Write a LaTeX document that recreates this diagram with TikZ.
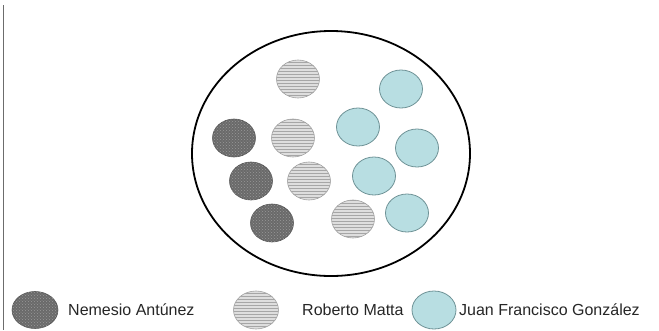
\documentclass[tikz,border=0pt]{standalone}
\usepackage{fontspec}
\setmainfont{Liberation Sans}
\usetikzlibrary{shapes.geometric,patterns}
\definecolor{darkfill}{HTML}{6A6A6A}
\definecolor{darkline}{HTML}{555555}
\definecolor{lightfill}{HTML}{DEDEDE}
\definecolor{lightline}{HTML}{A0A0A0}
\definecolor{cyanfill}{HTML}{B8DEE2}
\definecolor{cyanline}{HTML}{6E9296}
\tikzset{
  dot/.style={shape=ellipse, inner sep=0pt, minimum width=43pt, minimum height=38pt},
  nemesio/.style={dot, fill=darkfill, draw=darkline, line width=0.6pt,
    postaction={pattern=crosshatch dots, pattern color=black!40}},
  matta/.style={dot, fill=lightfill, draw=lightline, line width=0.6pt,
    postaction={pattern=horizontal lines, pattern color=gray!70}},
  gonzalez/.style={dot, fill=cyanfill, draw=cyanline, line width=0.8pt},
  legendtext/.style={anchor=west, inner sep=0pt, font=\fontsize{16}{18}\selectfont, text=black!85},
  frame/.style={draw=black, line width=1.8pt}
}
\begin{document}
\begin{tikzpicture}[x=1pt,y=-1pt]
\useasboundingbox (0,0) rectangle (659,330);
% left rule
\draw[gray!85!black, line width=0.9pt] (3,5) -- (3,330);
% big ellipse
\node[frame, shape=ellipse, inner sep=0pt, minimum width=278pt, minimum height=245pt] (big) at (331,153.5) {};
% Roberto Matta
\node[matta] (m1) at (298,79) {};
\node[matta] (m2) at (293,138) {};
\node[matta] (m3) at (309,181) {};
\node[matta] (m4) at (353,219) {};
% Nemesio Antunez
\node[nemesio] (n1) at (234,138) {};
\node[nemesio] (n2) at (251,181) {};
\node[nemesio] (n3) at (272,223) {};
% Juan Francisco Gonzalez
\node[gonzalez] (g1) at (401,89) {};
\node[gonzalez] (g2) at (358,127) {};
\node[gonzalez] (g3) at (417,148) {};
\node[gonzalez] (g4) at (374,176) {};
\node[gonzalez] (g5) at (407,213) {};
% legend
\node[nemesio, minimum width=46pt, minimum height=37pt] (ln) at (35,310) {};
\node[legendtext] (tn) at (68,310) {Nemesio Antúnez};
\node[matta, minimum width=45pt, minimum height=38pt] (lm) at (256,310) {};
\node[legendtext] (tm) at (302,310) {Roberto Matta};
\node[gonzalez, minimum width=44pt, minimum height=38pt] (lg) at (434,310) {};
\node[legendtext] (tg) at (459,310) {Juan Francisco González};
\end{tikzpicture}
\end{document}
